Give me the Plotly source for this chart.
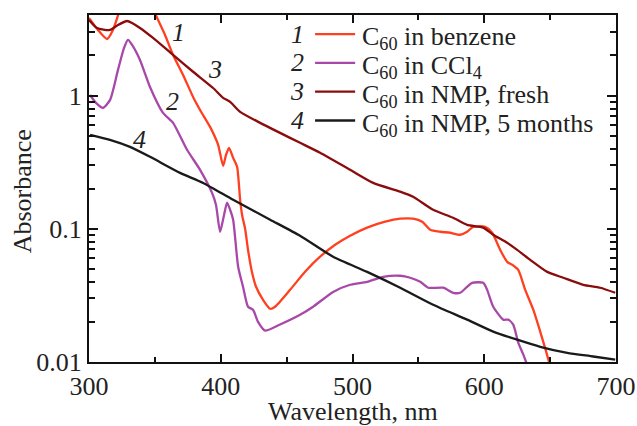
import plotly.graph_objects as go
import math

# Curve 1: C60 in benzene
wl1 = [300, 306.8, 313.7, 318.2, 322, 324, 349, 350.9, 357.7, 363.8, 371.4, 379, 384.3, 391.9, 398, 401.8, 404.0, 406.3,
       409.4, 412.4, 414.7, 416.2, 418.5, 420.7, 423.8, 426.8, 432.1, 437.5, 441.2, 452.6, 464, 475.4, 486.8,
       498.2, 511.1, 524.8, 536.2, 546, 552.9, 559, 566.6, 574.1, 581.7, 587, 591.6, 600.7, 606, 612.1, 617.4,
       621.2, 625.8, 631.1, 637.2, 643.2, 648.6, 651.6]
a1 = [3.83, 3.11, 2.66, 3.11, 4.0, 4.6, 4.6, 4.0, 2.85, 2.02, 1.43, 0.977, 0.78, 0.582, 0.427, 0.297, 0.359, 0.405,
      0.341, 0.292, 0.165, 0.127, 0.1, 0.0695, 0.0468, 0.0367, 0.0293, 0.0251, 0.026, 0.0348, 0.0476, 0.0617, 0.0759,
      0.0887, 0.102, 0.113, 0.119, 0.119, 0.113, 0.0984, 0.095, 0.0934, 0.0902, 0.095, 0.1035, 0.1035, 0.0934, 0.0695,
      0.0565, 0.0537, 0.0492, 0.0348, 0.0247, 0.016, 0.0105, 0.0079]

# Curve 2: C60 in CCl4
wl2 = [300.8, 305.3, 310.6, 316, 322, 326.6, 329.6, 332.7, 338.7, 346.3, 356.2, 363.8, 374.4, 384.3, 393.4, 396.4,
       399.5, 402.5, 404.8, 407.1, 409.4, 413.2, 416.9, 420.7, 424.5, 428.3, 433.7, 445, 460.2, 470.1, 485.3, 498.2,
       511.1, 523.3, 536.2, 543.8, 551.4, 557.4, 568.8, 576.4, 581.7, 587, 590.8, 599.2, 602.2, 606.8, 614.4, 618.2,
       622, 625.8, 629.6, 632.6]
a2 = [1.01, 0.881, 0.809, 0.928, 1.56, 2.28, 2.62, 2.40, 1.85, 1.16, 0.741, 0.624, 0.392, 0.277, 0.186, 0.151,
      0.095, 0.127, 0.157, 0.139, 0.117, 0.0519, 0.0367, 0.026, 0.0247, 0.020, 0.0172, 0.0191, 0.0226, 0.026, 0.0336,
      0.038, 0.040, 0.0436, 0.0444, 0.0429, 0.040, 0.0361, 0.0361, 0.0331, 0.0331, 0.0367, 0.0393, 0.0393, 0.0348,
      0.026, 0.0208, 0.0208, 0.0191, 0.014, 0.0114, 0.0095]

# Curve 3: C60 in NMP, fresh
wl3 = [300, 306.1, 315.9, 322, 328.9, 332.7, 338.7, 348.6, 363.8, 379, 394.2, 401.8, 407.1, 414.7, 429.9, 445,
       460.2, 475.4, 498.2, 515.7, 536.2, 546, 561.2, 576.4, 587, 599.2, 606.8, 617.4, 625, 634.9, 647.8, 660,
       675.1, 688, 699.4]
a3 = [3.70, 3.22, 3.11, 3.39, 3.63, 3.51, 3.22, 2.71, 2.02, 1.51, 1.14, 0.962, 0.898, 0.755, 0.624, 0.525,
      0.442, 0.372, 0.277, 0.221, 0.190, 0.174, 0.139, 0.121, 0.107, 0.102, 0.0902, 0.0785, 0.0695, 0.0585, 0.0475,
      0.0429, 0.038, 0.0361, 0.0331]

# Curve 4: C60 in NMP, 5 months
wl4 = [300.8, 315.9, 331.1, 346.3, 369.1, 386.6, 409.4, 437.5, 460.2, 485.3, 511.1, 536.2, 561.2, 587, 606.8,
       625, 642.5, 663, 682.7, 699.4]
a4 = [0.507, 0.465, 0.412, 0.347, 0.263, 0.221, 0.165, 0.117, 0.0887, 0.0617, 0.0475, 0.0361, 0.0269, 0.0208,
      0.0169, 0.0147, 0.0130, 0.0117, 0.0110, 0.0104]

numbers = ["1", "2", "3", "4"]
names = ["C<sub>60</sub> in benzene", "C<sub>60</sub> in CCl<sub>4</sub>",
         "C<sub>60</sub> in NMP, fresh", "C<sub>60</sub> in NMP, 5 months"]
colors = ["#ff4020", "#a848a8", "#8b0c0c", "#1a1a1a"]
# curve label positions (wavelength, absorbance)
label_x = [367.6, 363, 395.7, 338.7]
label_y = [3.0, 0.897, 1.56, 0.466]

x_title = "Wavelength, nm"
y_title = "Absorbance"

FONT = "Liberation Serif, Times New Roman, Times, serif"
TXT = dict(family=FONT, size=26, color="#222")
LEG = dict(family=FONT, size=26, color="#222")

fig = go.Figure()
for wl, a, nm, c in zip([wl1, wl2, wl3, wl4], [a1, a2, a3, a4], names, colors):
    fig.add_trace(go.Scatter(x=wl, y=a, mode="lines", name=nm, showlegend=False,
                             line=dict(color=c, width=2.3, shape="spline", smoothing=0.6)))

for n, lx, ly in zip(numbers, label_x, label_y):
    fig.add_annotation(x=lx, y=math.log10(ly), text=f"<i>{n}</i>", showarrow=False, font=TXT)

# hand-built legend (number, line sample, name)
row_y = [0.945, 0.862, 0.779, 0.696]
for n, nm, c, ry in zip(numbers, names, colors, row_y):
    fig.add_annotation(xref="paper", yref="paper", x=0.395, y=ry, text=f"<i>{n}</i>", showarrow=False,
                       font=LEG, xanchor="center", yanchor="middle")
    fig.add_shape(type="line", xref="paper", yref="paper", x0=0.429, x1=0.505, y0=ry, y1=ry,
                  line=dict(color=c, width=2.3))
    fig.add_annotation(xref="paper", yref="paper", x=0.514, y=ry - 0.012, text=nm, showarrow=False,
                       font=LEG, xanchor="left", yanchor="middle")

# axis titles
fig.add_annotation(xref="paper", yref="paper", x=0.5, y=-0.144, text=x_title, showarrow=False,
                   font=TXT, xanchor="center", yanchor="middle")
fig.add_annotation(xref="paper", yref="paper", x=-0.127, y=0.492, text=y_title, showarrow=False,
                   font=TXT, xanchor="center", yanchor="middle", textangle=-90)

axis_common = dict(showline=True, linecolor="#111", linewidth=2, mirror="ticks", ticks="inside",
                   tickcolor="#111", tickwidth=1.5, showgrid=False, zeroline=False, tickfont=TXT,
                   automargin=False)

fig.update_xaxes(range=[300, 700], tickmode="array", tickvals=[300, 400, 500, 600, 700], ticklen=8,
                 minor=dict(tickmode="array", tickvals=[350, 450, 550, 650], ticks="inside", ticklen=5,
                            tickcolor="#111", tickwidth=1.5),
                 **axis_common)
fig.update_yaxes(type="log", range=[-2, 0.605], tickmode="array", tickvals=[0.01, 0.1, 1],
                 ticktext=["0.01", "0.1", "1"], ticklen=9,
                 minor=dict(tickmode="array",
                            tickvals=[k * 10 ** e for e in (-2, -1, 0) for k in range(2, 10)], ticks="inside",
                            ticklen=6, tickcolor="#111", tickwidth=1.5),
                 **axis_common)

fig.update_layout(width=637, height=426, margin=dict(l=89, r=21, t=15, b=64),
                  font=TXT, plot_bgcolor="white", paper_bgcolor="white", showlegend=False)

fig.write_html("out.html")
